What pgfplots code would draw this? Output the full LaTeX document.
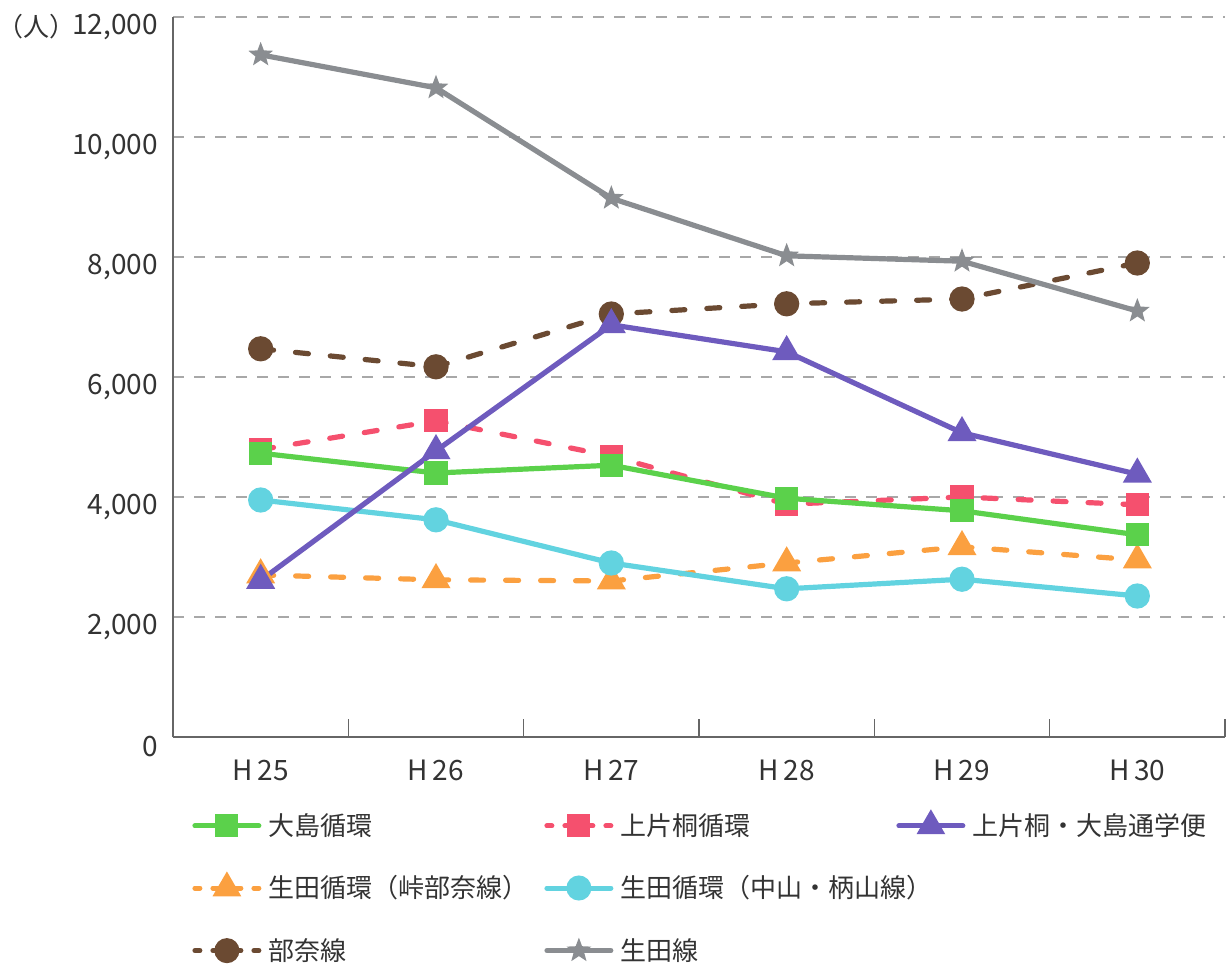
\documentclass[border=0pt]{standalone}
\usepackage{fontspec}
\setmainfont{Noto Sans CJK JP}
\usepackage{pgfplots}
\usepackage{pgfplotstable}
\pgfplotsset{compat=1.18}
\definecolor{cgreen}{HTML}{5BD14B}
\definecolor{cpink}{HTML}{F5506E}
\definecolor{cpurple}{HTML}{6E5BBE}
\definecolor{corange}{HTML}{FBA040}
\definecolor{ccyan}{HTML}{62D3E0}
\definecolor{cbrown}{HTML}{6B4A32}
\definecolor{cgray}{HTML}{8A8D91}
\definecolor{ctext}{HTML}{333333}
\definecolor{caxis}{HTML}{666666}
\definecolor{cgrid}{HTML}{A8A8A8}
\pgfdeclareplotmark{fstar}{%
  \pgfpathmoveto{\pgfpointpolar{90}{\pgfplotmarksize}}%
  \pgfpathlineto{\pgfpointpolar{126}{0.42\pgfplotmarksize}}%
  \pgfpathlineto{\pgfpointpolar{162}{\pgfplotmarksize}}%
  \pgfpathlineto{\pgfpointpolar{198}{0.42\pgfplotmarksize}}%
  \pgfpathlineto{\pgfpointpolar{234}{\pgfplotmarksize}}%
  \pgfpathlineto{\pgfpointpolar{270}{0.42\pgfplotmarksize}}%
  \pgfpathlineto{\pgfpointpolar{306}{\pgfplotmarksize}}%
  \pgfpathlineto{\pgfpointpolar{342}{0.42\pgfplotmarksize}}%
  \pgfpathlineto{\pgfpointpolar{18}{\pgfplotmarksize}}%
  \pgfpathlineto{\pgfpointpolar{54}{0.42\pgfplotmarksize}}%
  \pgfpathclose\pgfusepathqfill}
\pgfplotstableread{
x green pink purple orange cyan brown gray
0 4730 4790 2610 2700 3950 6470 11370
1 4400 5270 4770 2620 3620 6170 10820
2 4530 4680 6870 2600 2900 7050 8980
3 3980 3880 6420 2900 2470 7220 8020
4 3770 4000 5070 3170 2630 7300 7930
5 3370 3870 4380 2950 2350 7900 7100
}\data
\pgfplotsset{
  solidleg/.style={legend image code/.code={%
    \draw[##1, line cap=round, mark=none] (1.25pt,0pt) -- (33.25pt,0pt);
    \draw[##1, only marks] plot coordinates {(17.25pt,0pt)};}},
  dashleg/.style={legend image code/.code={%
    \draw[##1, line cap=round, mark=none, dash pattern=on 2.5pt off 6.5pt on 14pt off 6.5pt on 2.5pt] (1.25pt,0pt) -- (33.25pt,0pt);
    \draw[##1, only marks] plot coordinates {(17.25pt,0pt)};}},
}
\begin{document}
\begin{tikzpicture}
\begin{axis}[
  at={(0,0)}, anchor=south west,
  scale only axis, width=526pt, height=360pt,
  xmin=-0.5, xmax=5.5, ymin=0, ymax=12000,
  axis x line*=bottom, axis y line*=left,
  axis line style={caxis, line width=0.8pt},
  xtick={0,...,5},
  xticklabels={H\,25,H\,26,H\,27,H\,28,H\,29,H\,30},
  major x tick style={draw=none},
  minor xtick={-0.5,0.5,1.5,2.5,3.5,4.5,5.5},
  minor tick length=9pt,
  minor x tick style={caxis, line width=0.6pt},
  ytick={0,2000,...,12000},
  major y tick style={draw=none},
  scaled y ticks=false,
  /pgf/number format/.cd, 1000 sep={,}, assume math mode=true, /pgfplots/.cd,
  ymajorgrids,
  grid style={cgrid, line width=0.7pt, dash pattern=on 5.5pt off 5pt},
  tick label style={font=\fontsize{14pt}{16pt}\selectfont, text=ctext},
  yticklabel style={xshift=-4pt, yshift=-5pt},
  xticklabel style={yshift=-8pt},
  legend style={draw=none, fill=none, at={(0,0)}, anchor=north west,
    xshift=6.5pt, yshift=-36pt, font=\fontsize{13pt}{15pt}\selectfont, text=ctext,
    row sep=18.5pt, column sep=0pt, nodes={inner sep=0pt},
    /tikz/every odd column/.append style={column sep=3.5pt}},
  legend cell align=left,
  legend columns=3,
  every axis plot/.append style={line width=2.6pt},
]
% legend entries
\addlegendimage{solidleg, cgreen, line width=2.5pt, mark=square*, mark size=4.5pt, mark options={solid}}
\addlegendentry{\makebox[138pt][l]{大島循環}}
\addlegendimage{dashleg, cpink, line width=2.5pt, mark=square*, mark size=4.5pt, mark options={solid}}
\addlegendentry{\makebox[138pt][l]{上片桐循環}}
\addlegendimage{solidleg, cpurple, line width=2.5pt, mark=triangle*, mark size=5.8pt, mark options={solid}}
\addlegendentry{上片桐・大島通学便}
\addlegendimage{dashleg, corange, line width=2.5pt, mark=triangle*, mark size=5.8pt, mark options={solid}}
\addlegendentry{\makebox[138pt][l]{生田循環（峠部奈線）}}
\addlegendimage{solidleg, ccyan, line width=2.5pt, mark=*, mark size=5pt, mark options={solid}}
\addlegendentry{\makebox[138pt][l]{生田循環（中山・柄山線）}}
\addlegendimage{empty legend}
\addlegendentry{}
\addlegendimage{dashleg, cbrown, line width=2.5pt, mark=*, mark size=5pt, mark options={solid}}
\addlegendentry{\makebox[138pt][l]{部奈線}}
\addlegendimage{solidleg, cgray, line width=2.5pt, mark=fstar, mark size=6.5pt, mark options={solid}}
\addlegendentry{\makebox[138pt][l]{生田線}}
% plots
\addplot[forget plot, cpink, line cap=round, dash pattern=on 6.5pt off 11pt, mark=square*, mark size=4.5pt, mark options={solid}] table[x=x,y=pink]{\data};
\addplot[forget plot, corange, line cap=round, dash pattern=on 6.5pt off 11pt, mark=triangle*, mark size=5.8pt, mark options={solid}] table[x=x,y=orange]{\data};
\addplot[forget plot, ccyan, mark=*, mark size=5pt] table[x=x,y=cyan]{\data};
\addplot[forget plot, cgreen, mark=square*, mark size=4.5pt] table[x=x,y=green]{\data};
\addplot[forget plot, cbrown, line cap=round, dash pattern=on 6.5pt off 11pt, mark=*, mark size=5pt, mark options={solid}] table[x=x,y=brown]{\data};
\addplot[forget plot, cgray, mark=fstar, mark size=6.5pt] table[x=x,y=gray]{\data};
\addplot[forget plot, cpurple, mark=triangle*, mark size=5.8pt] table[x=x,y=purple]{\data};
\end{axis}
\node[anchor=east, font=\fontsize{13pt}{15pt}\selectfont, text=ctext, inner sep=0pt] at (-48.5pt,355pt) {（人）};
\pgfresetboundingbox
\path (-86.5pt,-114pt) rectangle (529pt,368.5pt);
\end{tikzpicture}
\end{document}
